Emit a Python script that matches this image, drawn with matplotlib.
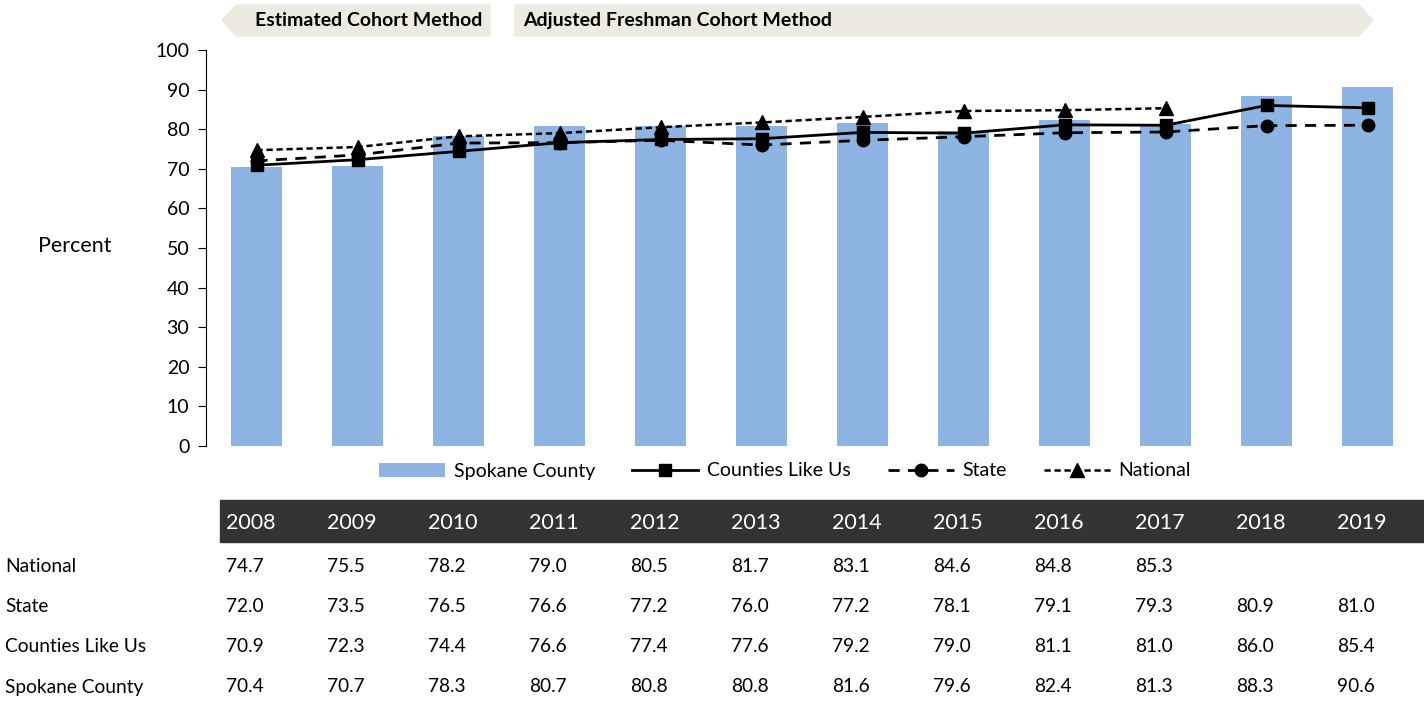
import numpy as np
import matplotlib
matplotlib.use("Agg")
import matplotlib.pyplot as plt
from matplotlib.patches import Polygon, Rectangle
from matplotlib.transforms import blended_transform_factory

plt.rcParams['font.family'] = ['Lato', 'DejaVu Sans']

# 数据
years = ['2008', '2009', '2010', '2011', '2012', '2013', '2014', '2015', '2016', '2017', '2018', '2019']
spokane = [70.4, 70.7, 78.3, 80.7, 80.8, 80.8, 81.6, 79.6, 82.4, 81.3, 88.3, 90.6]
counties = [70.9, 72.3, 74.4, 76.6, 77.4, 77.6, 79.2, 79.0, 81.1, 81.0, 86.0, 85.4]
state = [72.0, 73.5, 76.5, 76.6, 77.2, 76.0, 77.2, 78.1, 79.1, 79.3, 80.9, 81.0]
national = [74.7, 75.5, 78.2, 79.0, 80.5, 81.7, 83.1, 84.6, 84.8, 85.3, None, None]

W, H = 1424, 702
fig = plt.figure(figsize=(W / 100, H / 100), dpi=100)
ax = fig.add_axes([206 / W, 1 - 446 / H, (1418 - 206) / W, (446 - 50) / H])

x = np.arange(len(years))
nat = np.array([np.nan if v is None else v for v in national])

ax.bar(x, spokane, 0.5, color='#8EB4E3', label='Spokane County', zorder=1)
ax.plot(x, counties, '-', color='black', lw=2, marker='s', ms=9,
        label='Counties Like Us', zorder=3)
ax.plot(x, state, color='black', lw=2, ls=(0, (4, 3)), marker='o', ms=9,
        label='State', zorder=3)
ax.plot(x, nat, color='black', lw=1.8, ls=(0, (2.5, 1.5)), marker='^', ms=10,
        label='National', zorder=3)

ax.set_xlim(-0.5, 11.5)
ax.set_ylim(0, 100)
ax.set_yticks(range(0, 101, 10))
ax.set_xticks([])
for s in ['top', 'right', 'bottom']:
    ax.spines[s].set_visible(False)
ax.spines['left'].set_color('black')
ax.tick_params(axis='y', direction='out', length=6, labelsize=14, pad=6)
fig.text(75 / W, 1 - 246 / H, 'Percent', fontsize=15.5, ha='center', va='center')

handles, labels = ax.get_legend_handles_labels()
order = [3, 0, 1, 2]
ax.legend([handles[i] for i in order], [labels[i] for i in order],
          loc='center', bbox_to_anchor=(785 / W, 1 - 471 / H),
          bbox_transform=fig.transFigure, ncol=4, frameon=False,
          fontsize=14, handlelength=3.4, columnspacing=1.9, handletextpad=0.45)

# 顶部横幅
bc = '#EDEBE0'
y0, y1 = 1 - 36 / H, 1 - 5 / H
ym = (y0 + y1) / 2
fig.patches.append(Polygon([[222 / W, ym], [236 / W, y1], [490 / W, y1], [490 / W, y0], [236 / W, y0]],
                           closed=True, transform=fig.transFigure, color=bc, zorder=0))
fig.patches.append(Polygon([[515 / W, y0], [515 / W, y1], [1359 / W, y1], [1373 / W, ym], [1359 / W, y0]],
                           closed=True, transform=fig.transFigure, color=bc, zorder=0))
fig.text(255 / W, ym, 'Estimated Cohort Method', fontsize=14, fontweight='bold', va='center')
fig.text(523 / W, ym, 'Adjusted Freshman Cohort Method', fontsize=14, fontweight='bold', va='center')

# 下方表格
fig.patches.append(Rectangle((220 / W, 1 - 542 / H), (1424 - 220) / W, 42 / H,
                             transform=fig.transFigure, color='#333333', zorder=0))
tr = blended_transform_factory(ax.transData, fig.transFigure)
for i, yr in enumerate(years):
    fig.text(i - 0.3, 1 - 523 / H, yr, transform=tr, color='white', fontsize=15.5, va='center')

rows = [('National', national), ('State', state),
        ('Counties Like Us', counties), ('Spokane County', spokane)]
for r, (name, vals) in enumerate(rows):
    yy = 1 - (567 + 40 * r) / H
    fig.text(5 / W, yy, name, fontsize=13.8, va='center')
    for i, v in enumerate(vals):
        if v is not None:
            fig.text(i - 0.3, yy, '%.1f' % v, transform=tr, fontsize=13.8, va='center')

fig.savefig('out.png', dpi=100)
